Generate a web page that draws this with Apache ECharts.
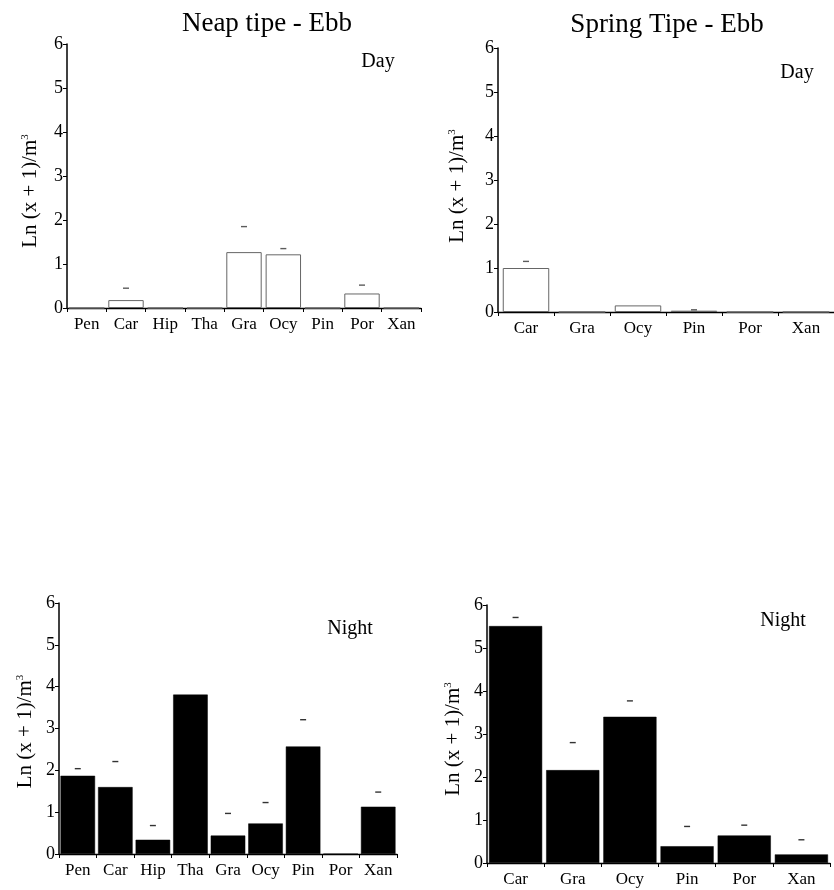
<!DOCTYPE html>
<html>
<head>
<meta charset="utf-8">
<script src="https://cdn.jsdelivr.net/npm/echarts@6/dist/echarts.min.js"></script>
<style>html,body{margin:0;padding:0;background:#fff;}#c{width:834px;height:890px;}</style>
</head>
<body>
<div id="c"></div>
<script>
const neapCats = ['Pen','Car','Hip','Tha','Gra','Ocy','Pin','Por','Xan'];
const springCats = ['Car','Gra','Ocy','Pin','Por','Xan'];
const yTicks = [0,1,2,3,4,5,6];

const neapDay = [0, 0.18, 0, 0, 1.27, 1.22, 0, 0.33, 0];
const neapDayErr = [null, 0.45, null, null, 1.85, 1.35, null, 0.52, null];
const springDay = [1.0, 0, 0.15, 0.03, 0, 0];
const springDayErr = [1.15, null, null, 0.05, null, null];
const neapNight = [1.87, 1.60, 0.34, 3.81, 0.44, 0.73, 2.57, 0, 1.13];
const neapNightErr = [2.04, 2.21, 0.68, null, 0.97, 1.23, 3.21, null, 1.48];
const springNight = [5.51, 2.16, 3.40, 0.39, 0.64, 0.20];
const springNightErr = [5.71, 2.80, 3.77, 0.85, 0.88, 0.54];

const titles = ['Neap tipe - Ebb', 'Spring Tipe - Ebb'];
const panelLabels = ['Day', 'Day', 'Night', 'Night'];

const FONT = '"Liberation Serif", "DejaVu Serif", serif';
const chart = echarts.init(document.getElementById('c'));

const grids = [
  {left: 67, top: 44, width: 354, height: 264},
  {left: 498, top: 48, width: 342, height: 264},
  {left: 59, top: 603, width: 338, height: 251},
  {left: 487, top: 605, width: 343, height: 258}
];
const cats = [neapCats, springCats, neapCats, springCats];
const vals = [neapDay, springDay, neapNight, springNight];
const errs = [neapDayErr, springDayErr, neapNightErr, springNightErr];
const gaps = ['10%', '17%', '8%', '7%'];
const nameGaps = [26, 30, 23, 23];
const namePads = [[0,30,0,0],[0,12,0,0],[0,6,0,0],[0,10,0,0]];
const dayStyle = {color: '#fff', borderColor: '#666', borderWidth: 1};
const nightStyle = {color: '#000', borderColor: '#000', borderWidth: 0.5};

const xAxes = cats.map((c, i) => ({
  type: 'category', gridIndex: i, data: c,
  axisLine: {lineStyle: {color: '#000', width: 1.3}},
  axisTick: {show: true, length: 4, lineStyle: {color: '#000'}},
  axisLabel: {interval: 0, color: '#000', fontFamily: FONT, fontSize: 17, margin: 8}
}));
const yAxes = grids.map((g, i) => ({
  type: 'value', gridIndex: i, min: yTicks[0], max: yTicks[yTicks.length-1], interval: 1,
  name: 'Ln (x + 1)/m{sup|3}', nameLocation: 'middle', nameGap: nameGaps[i],
  nameTextStyle: {color: '#000', fontFamily: FONT, fontSize: 21, padding: namePads[i],
    rich: {sup: {fontSize: 11, verticalAlign: 'top', color: '#000', fontFamily: FONT}}},
  axisLine: {show: true, lineStyle: {color: '#000', width: 1.5}},
  axisTick: {show: true, length: 4, lineStyle: {color: '#000'}},
  splitLine: {show: false},
  axisLabel: {color: '#000', fontFamily: FONT, fontSize: 18, margin: 4}
}));

const series = [];
vals.forEach((v, i) => {
  series.push({
    type: 'bar', xAxisIndex: i, yAxisIndex: i, data: v,
    barCategoryGap: gaps[i],
    itemStyle: i < 2 ? dayStyle : nightStyle,
    silent: true
  });
  series.push({
    type: 'scatter', xAxisIndex: i, yAxisIndex: i,
    data: errs[i].map((e, k) => e == null ? null : [k, e]).filter(d => d),
    symbol: 'rect', symbolSize: [6, 1.4],
    itemStyle: {color: i < 2 ? '#333' : '#000'},
    silent: true
  });
});

const textEl = (t, x, y, size) => ({
  type: 'text', x: x, y: y,
  style: {text: t, fill: '#000', font: size + 'px ' + FONT, align: 'center', verticalAlign: 'middle'}
});

chart.setOption({
  animation: false,
  backgroundColor: '#fff',
  grid: grids,
  xAxis: xAxes,
  yAxis: yAxes,
  series: series,
  graphic: [
    textEl(titles[0], 267, 24, 27),
    textEl(titles[1], 667, 25, 27),
    textEl(panelLabels[0], 378, 62, 20),
    textEl(panelLabels[1], 797, 73, 20),
    textEl(panelLabels[2], 350, 629, 20),
    textEl(panelLabels[3], 783, 621, 20)
  ]
});
</script>
</body>
</html>
